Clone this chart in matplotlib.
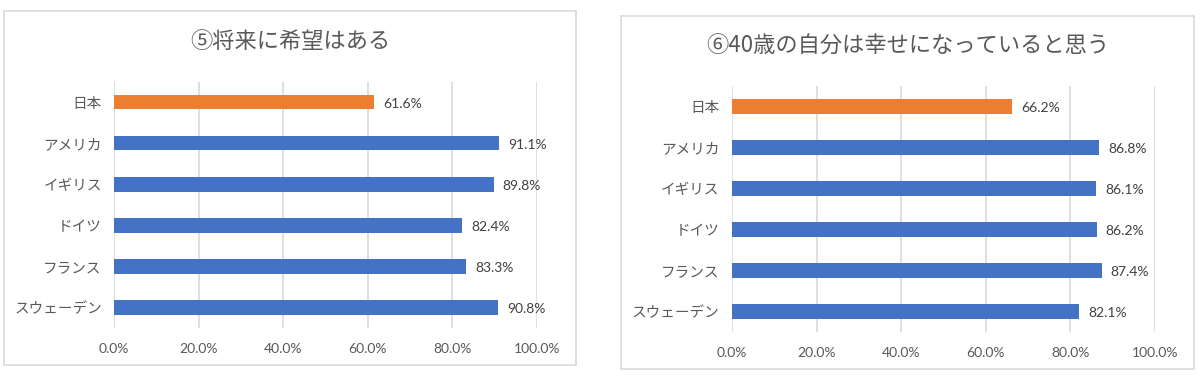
import matplotlib
matplotlib.use("Agg")
import matplotlib.pyplot as plt
from matplotlib.patches import Rectangle
from matplotlib.ticker import FixedLocator

# ---- data ----
categories = ["日本", "アメリカ", "イギリス", "ドイツ", "フランス", "スウェーデン"]
hope_values = [61.6, 91.1, 89.8, 82.4, 83.3, 90.8]
happy40_values = [66.2, 86.8, 86.1, 86.2, 87.4, 82.1]
title_left = "⑤将来に希望はある"
title_right = "⑥40歳の自分は幸せになっていると思う"
x_ticks = [0, 20, 40, 60, 80, 100]
x_tick_labels = ["0.0%", "20.0%", "40.0%", "60.0%", "80.0%", "100.0%"]

ORANGE = "#ED7D31"
BLUE = "#4472C4"
GRID = "#D9D9D9"
TXT = "#595959"
LBL = "#404040"
JP = ["Noto Sans CJK JP", "DejaVu Sans"]
NUM = ["Lato", "DejaVu Sans"]

fig = plt.figure(figsize=(12, 3.81), dpi=100)
fig.patch.set_facecolor("white")

# panel frames
fig.add_artist(Rectangle((4/1200, 16/381), 572/1200, 354/381, transform=fig.transFigure,
                         fill=False, edgecolor=GRID, linewidth=1.2))
fig.add_artist(Rectangle((621/1200, 12/381), 573/1200, 353/381, transform=fig.transFigure,
                         fill=False, edgecolor=GRID, linewidth=1.2))


def draw(ax, values, title, tx, ty, tsize):
    colors = [ORANGE] + [BLUE] * (len(values) - 1)
    y = list(range(len(categories)))
    ax.barh(y, values, height=0.35, color=colors, zorder=3)
    ax.set_xlim(0, 100)
    ax.set_ylim(len(categories) - 0.5, -0.5)
    ax.set_yticks(y)
    ax.set_yticklabels(categories, fontfamily=JP, fontsize=10.5, color=TXT)
    ax.xaxis.set_major_locator(FixedLocator(x_ticks))
    ax.set_xticklabels(x_tick_labels, fontfamily=NUM, fontsize=10, color=TXT)
    ax.tick_params(axis="x", length=0, pad=11)
    ax.tick_params(axis="y", length=0, pad=9)
    for s in ax.spines.values():
        s.set_visible(False)
    ax.grid(axis="x", color=GRID, linewidth=1.2, zorder=0)
    ax.set_axisbelow(True)
    for yi, v in zip(y, values):
        ax.annotate(f"{v:.1f}%", xy=(v, yi), xytext=(6.5, -1), textcoords="offset points",
                    ha="left", va="center", fontfamily=NUM, fontsize=10, color=LBL)
    fig.text(tx, ty, title, ha="center", va="center", fontfamily=JP, fontsize=tsize, color=TXT)


ax1 = fig.add_axes([114.3/1200, 53/381, 422.4/1200, 246.3/381])
draw(ax1, hope_values, title_left, 290/1200, (381-41)/381, 16)

ax2 = fig.add_axes([732/1200, 49/381, 423/1200, 246/381])
draw(ax2, happy40_values, title_right, 908/1200, (381-46)/381, 16)

fig.savefig("out.png", dpi=100, facecolor="white")
